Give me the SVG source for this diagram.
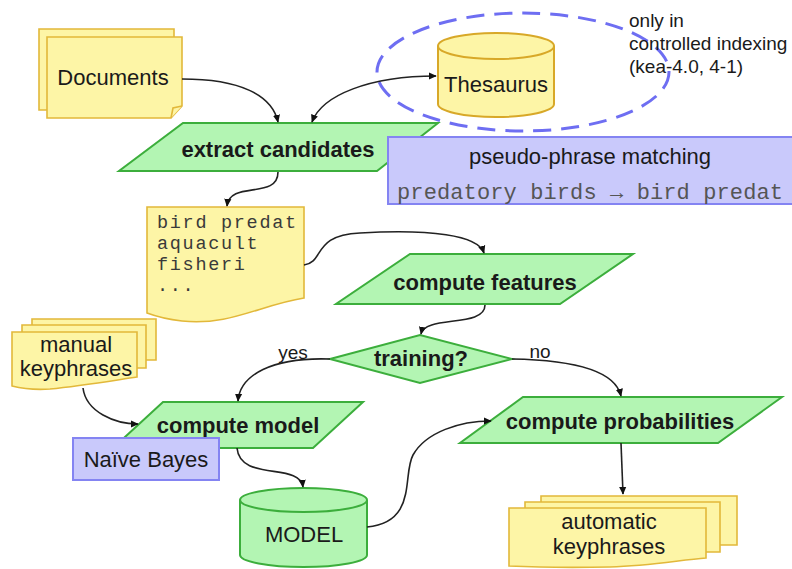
<svg xmlns="http://www.w3.org/2000/svg" width="792" height="569" viewBox="0 0 792 569">
<defs>
<marker id="ah" viewBox="0 0 10 10" refX="9" refY="5" markerWidth="8" markerHeight="8" markerUnits="userSpaceOnUse" orient="auto-start-reverse">
<path d="M0,0.5 L10,5 L0,9.5 Z" fill="#111"/>
</marker>
<style>
.g{fill:#b3f5b3;stroke:#3cae3c;stroke-width:2}
.y{fill:#fdf5a6;stroke:#e2b83a;stroke-width:1.6}
.cy{fill:#fdf5a6;stroke:#d8a828;stroke-width:2}
.b{fill:#c9c9fb;stroke:#8484f2;stroke-width:2}
.c{fill:none;stroke:#222;stroke-width:1.6}
.t{font-family:"Liberation Sans",Arial,sans-serif;font-size:22px;fill:#1a1a1a;text-anchor:middle}
.tb{font-family:"Liberation Sans",Arial,sans-serif;font-size:22px;font-weight:bold;fill:#1a1a1a;text-anchor:middle}
.m{font-family:"Liberation Mono","Courier New",monospace;font-size:18.5px;letter-spacing:1.7px;fill:#3a3a3a}
.s{font-family:"Liberation Sans",Arial,sans-serif;font-size:19px;fill:#1a1a1a}
</style>
</defs>
<rect width="792" height="569" fill="#fff"/>

<g id="thesaurus-scope">
<ellipse cx="523" cy="72" rx="146" ry="59" fill="none" stroke="#6e6ef2" stroke-width="3" stroke-dasharray="18,10"/>
</g>

<g id="documents">
<path class="y" d="M39,29 H174 V98 L163,110 H39 Z"/>
<path class="y" d="M163,110 L165,100 L174,98" fill="none"/>
<path class="y" d="M47,37 H182 V106 L171,118 H47 Z"/>
<path class="y" d="M171,118 L173,108 L182,106"/>
<text class="t" x="113" y="85">Documents</text>
</g>

<g id="thesaurus">
<path class="cy" d="M438,46 V104 A58,13 0 0 0 554,104 V46"/>
<ellipse class="cy" cx="496" cy="46" rx="58" ry="13"/>
<text class="t" x="496" y="92">Thesaurus</text>
</g>

<g id="note">
<text class="s" x="629" y="27">only in</text>
<text class="s" x="629" y="50">controlled indexing</text>
<text class="s" x="629" y="73">(kea-4.0, 4-1)</text>
</g>

<g id="extract-candidates">
<path class="g" d="M183,123 H438 L377,171 H119 Z"/>
<text class="tb" x="278" y="157">extract candidates</text>
</g>

<g id="pseudo-phrase">
<rect class="b" x="388" y="137" width="406" height="67"/>
<text class="t" x="590" y="164" font-size="21.5">pseudo-phrase matching</text>
<text x="397" y="199" font-family="Liberation Mono, Courier New, monospace" font-size="22" fill="#555" textLength="386" lengthAdjust="spacing">predatory birds → bird predat</text>
</g>

<g id="candidates">
<path class="y" d="M147,207 H304 V298 C260,305 230,326 182,321 C165,319 155,316 147,313 Z" stroke-width="2"/>
<text class="m" x="157" y="228">bird predat</text>
<text class="m" x="157" y="249">aquacult</text>
<text class="m" x="157" y="270">fisheri</text>
<text class="m" x="157" y="291">...</text>
</g>

<g id="compute-features">
<path class="g" d="M410,254 H633 L560,304 H336 Z"/>
<text class="tb" x="485" y="290" font-size="21.5">compute features</text>
</g>

<g id="training">
<path class="g" d="M330,359 L420,335 L512,359 L420,383 Z"/>
<text class="tb" x="421" y="366">training?</text>
</g>

<g id="manual-keyphrases">
<path class="y" d="M32,319 H156 V360 H32 Z"/>
<path class="y" d="M22,325 H146 V368 H22 Z"/>
<path class="y" d="M12,332 H137 V377 C110,381 80,386 50,389 C35,390 20,388 12,386 Z"/>
<text class="t" x="76" y="352">manual</text>
<text class="t" x="76" y="376">keyphrases</text>
</g>

<g id="compute-model">
<path class="g" d="M163,402 H363 L313,448 H113 Z"/>
<text class="tb" x="238" y="433" font-size="21.5">compute model</text>
</g>

<g id="naive-bayes">
<rect class="b" x="73" y="438" width="146" height="42"/>
<text class="t" x="146" y="467">Naïve Bayes</text>
</g>

<g id="model">
<path class="g" d="M240,500 V555 A63.5,12 0 0 0 367,555 V500"/>
<ellipse class="g" cx="303.5" cy="500" rx="63.5" ry="12"/>
<text class="t" x="304" y="542" font-size="21">MODEL</text>
</g>

<g id="compute-probabilities">
<path class="g" d="M523,397 H782 L718,443 H460 Z"/>
<text class="tb" x="620" y="429">compute probabilities</text>
</g>

<g id="automatic-keyphrases">
<path class="y" d="M541,496 H737 V545 H541 Z"/>
<path class="y" d="M525,502 H720 V552 H525 Z"/>
<path class="y" d="M509,508 H706 V558 C680,560 650,566 610,567 C560,568 530,567 509,566 Z"/>
<text class="t" x="609" y="529" font-size="21">automatic</text>
<text class="t" x="609" y="554" font-size="21">keyphrases</text>
</g>

<g id="connectors">
<path class="c" d="M182,79 C240,79 272,95 278,122" marker-end="url(#ah)"/>
<path class="c" d="M312,122 C322,95 370,76 436,76" marker-start="url(#ah)" marker-end="url(#ah)"/>
<path class="c" d="M278,172 C278,200 230,180 227,206" marker-end="url(#ah)"/>
<path class="c" d="M304,265 C325,262 312,235 360,233 C430,229 478,235 484,253" marker-end="url(#ah)"/>
<path class="c" d="M485,305 C485,328 425,315 421,334" marker-end="url(#ah)"/>
<path class="c" d="M330,359 C272,357 240,375 238,401" marker-end="url(#ah)"/>
<path class="c" d="M512,359 C572,360 615,370 621,396" marker-end="url(#ah)"/>
<path class="c" d="M83,388 C86,412 115,424 138,424" marker-end="url(#ah)"/>
<path class="c" d="M237,448 C240,482 300,462 303,487" marker-end="url(#ah)"/>
<path class="c" d="M367,527 C418,522 402,475 413,455 C426,432 460,421 491,421" marker-end="url(#ah)"/>
<path class="c" d="M621,443 L623,494" marker-end="url(#ah)"/>
<text class="s" x="293" y="359" text-anchor="middle" font-size="17">yes</text>
<text class="s" x="540" y="358" text-anchor="middle" font-size="17">no</text>
</g>
</svg>
